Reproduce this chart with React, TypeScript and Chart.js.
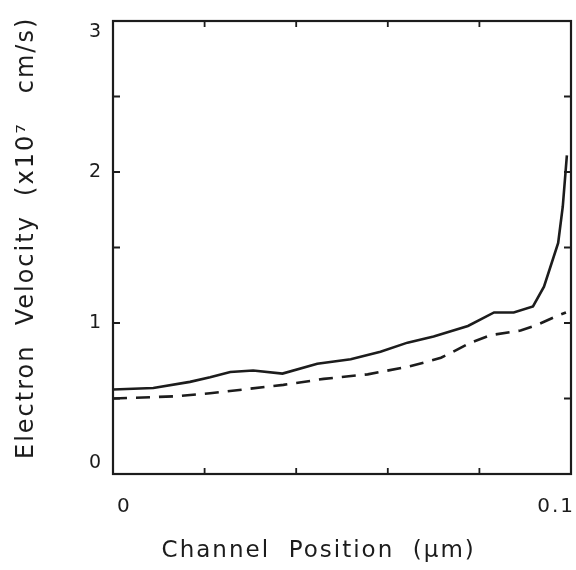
import { useEffect, useRef } from "react";
import { Chart, registerables } from "chart.js";

Chart.register(...registerables);

// Solid curve (upper)
const solidX = [0, 0.0088, 0.0168, 0.0212, 0.0256, 0.0306, 0.037, 0.0446, 0.0519, 0.0584, 0.0643, 0.07, 0.0775, 0.0832, 0.0875, 0.0917, 0.0941, 0.0972, 0.0982, 0.0991];
const solidV = [0.56, 0.57, 0.61, 0.64, 0.675, 0.685, 0.665, 0.73, 0.76, 0.81, 0.87, 0.91, 0.98, 1.07, 1.07, 1.11, 1.24, 1.53, 1.77, 2.11];

// Dashed curve (lower)
const dashedX = [0, 0.014, 0.0212, 0.03, 0.0372, 0.046, 0.0556, 0.0643, 0.0694, 0.0716, 0.0737, 0.0781, 0.0825, 0.089, 0.0928, 0.0972, 0.0989];
const dashedV = [0.5, 0.515, 0.535, 0.565, 0.59, 0.63, 0.66, 0.71, 0.75, 0.77, 0.8, 0.87, 0.92, 0.95, 0.99, 1.05, 1.07];

const xTickMarks = [0, 0.02, 0.04, 0.06, 0.08, 0.1];
const yTickMarks = [0, 0.5, 1, 1.5, 2, 2.5, 3];
const xLabelled = ["0", "0.1"];
const yLabelled = ["0", "1", "2", "3"];

const xTitle = "Channel  Position  (μm)     ";
const yTitle = "  Electron  Velocity  (x10⁷   cm/s)";

const INK = "#1c1c1c";

const framePlugin = {
  id: "frame",
  beforeDraw(chart: any) {
    chart.ctx.letterSpacing = "2px";
  },
  afterDraw(chart: any) {
    const { ctx, chartArea, scales } = chart;
    const { left, right, top, bottom } = chartArea;
    ctx.save();
    ctx.letterSpacing = "0px";
    ctx.strokeStyle = INK;
    ctx.lineWidth = 2.2;
    ctx.strokeRect(left, top, right - left, bottom - top);
    ctx.lineWidth = 1.8;
    ctx.beginPath();
    for (const v of xTickMarks) {
      const px = scales.x.getPixelForValue(v);
      ctx.moveTo(px, bottom);
      ctx.lineTo(px, bottom - 6);
      ctx.moveTo(px, top);
      ctx.lineTo(px, top + 6);
    }
    for (const v of yTickMarks) {
      const py = scales.y.getPixelForValue(v);
      ctx.moveTo(left, py);
      ctx.lineTo(left + 7, py);
      ctx.moveTo(right, py);
      ctx.lineTo(right - 7, py);
    }
    ctx.stroke();
    ctx.restore();
  },
};

export default function App() {
  const ref = useRef<HTMLCanvasElement | null>(null);

  useEffect(() => {
    if (!ref.current) return;
    const chart = new Chart(ref.current, {
      type: "line",
      data: {
        datasets: [
          {
            label: "solid",
            data: solidX.map((x, i) => ({ x, y: solidV[i] })),
            borderColor: INK,
            borderWidth: 2.6,
            pointRadius: 0,
            tension: 0,
            fill: false,
          },
          {
            label: "dashed",
            data: dashedX.map((x, i) => ({ x, y: dashedV[i] })),
            borderColor: INK,
            borderWidth: 2.6,
            borderDash: [14, 9],
            pointRadius: 0,
            tension: 0,
            fill: false,
          },
        ],
      },
      options: {
        responsive: false,
        animation: false,
        layout: { padding: { top: 21, right: 5, left: 0, bottom: 0 } },
        plugins: { legend: { display: false }, tooltip: { enabled: false } },
        scales: {
          x: {
            type: "linear",
            min: 0,
            max: 0.1,
            grid: { display: false, drawTicks: false },
            border: { display: false },
            ticks: {
              stepSize: 0.02,
              align: "inner",
              padding: 21,
              labelOffset: 4,
              color: INK,
              maxRotation: 0,
              autoSkip: false,
              font: { family: "DejaVu Sans", size: 20 },
              callback: (v: any) => {
                const s = Number(v).toFixed(2).replace(/0+$/, "").replace(/\.$/, "");
                return xLabelled.includes(s) ? s : "";
              },
            },
            title: {
              display: true,
              text: xTitle,
              color: INK,
              font: { family: "DejaVu Sans", size: 23 },
              padding: { top: 0, bottom: 5 },
            },
            afterFit: (s: any) => {
              s.height = 96;
              s.paddingLeft = 0;
              s.paddingRight = 0;
            },
          },
          y: {
            type: "linear",
            min: 0,
            max: 3,
            grid: { display: false, drawTicks: false },
            border: { display: false },
            ticks: {
              stepSize: 1,
              padding: 10,
              color: INK,
              font: { family: "DejaVu Sans", size: 19 },
              callback: (v: any) => {
                const s = String(Number(v));
                if (!yLabelled.includes(s)) return "";
                // end labels sit inside the axis range, as in the original plot
                if (s === "3") return ["", s];
                if (s === "0") return [s, ""];
                return s;
              },
            },
            title: {
              display: true,
              text: yTitle,
              color: INK,
              font: { family: "DejaVu Sans", size: 24 },
              padding: { top: 12, bottom: 0 },
            },
            afterFit: (s: any) => {
              s.width = 113;
              s.paddingTop = 0;
              s.paddingBottom = 0;
            },
          },
        },
      },
      plugins: [framePlugin],
    });
    return () => chart.destroy();
  }, []);

  return (
    <div style={{ position: "absolute", left: 0, top: 0, width: 576, height: 570, background: "#fff" }}>
      <canvas ref={ref} width={576} height={570} style={{ display: "block" }} />
    </div>
  );
}
